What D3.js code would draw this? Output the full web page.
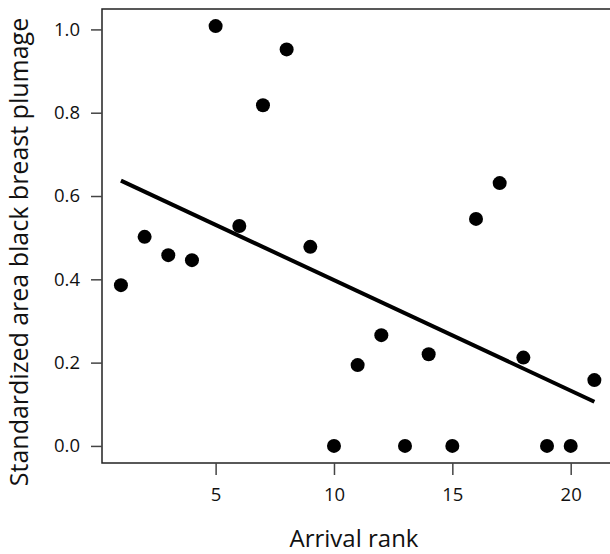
<!DOCTYPE html>
<html>
<head>
<meta charset="utf-8">
<script src="https://cdn.jsdelivr.net/npm/d3@7.9.0/dist/d3.min.js"></script>
<style>
  body { margin: 0; background: #fff; }
  svg text { font-family: "Open Sans", sans-serif; fill: #111; }
</style>
</head>
<body>
<svg id="chart" width="610" height="554"></svg>
<script>
// arrival rank of each male, and the standardized black breast area
const arrivalRank = [1, 2, 3, 4, 5, 6, 7, 8, 9, 10, 11, 12, 13, 14, 15, 16, 17, 18, 19, 20, 21];
const breastArea = [0.386, 0.502, 0.458, 0.446, 1.008, 0.528, 0.818, 0.952, 0.478, 0,
                    0.194, 0.266, 0, 0.220, 0, 0.545, 0.631, 0.212, 0, 0, 0.158];
const xTicks = [5, 10, 15, 20];
const yTicks = [0, 0.2, 0.4, 0.6, 0.8, 1.0];

const svg = d3.select('#chart');

// R-style limits: 4% padding on both sides
let x = d3.scaleLinear().domain([0.2, 21.8]).range([102, 613.3]);
let y = d3.scaleLinear().domain([-0.041, 1.049]).range([463, 9]);

// plot box (right edge falls just off the page)
svg.append('rect')
    .attr('x', x(0.2))
    .attr('y', y(1.049))
    .attr('width', x(21.8) - x(0.2))
    .attr('height', y(-0.041) - y(1.049))
    .attr('fill', 'none')
    .attr('stroke', '#222')
    .attr('stroke-width', 1.5);

// y axis
let yAxis = svg.append('g')
    .attr('transform', `translate(${x(0.2)},0)`)
    .call(d3.axisLeft(y).tickValues(yTicks).tickFormat(d3.format('.1f')).tickSize(11).tickPadding(11));
yAxis.select('.domain').remove();
yAxis.selectAll('.tick line').attr('stroke', '#444').attr('stroke-width', 1.5);
yAxis.selectAll('.tick text').style('font-size', '18.5px').attr('fill', '#111');

// x axis
let xAxis = svg.append('g')
    .attr('transform', `translate(0,${y(-0.041)})`)
    .call(d3.axisBottom(x).tickValues(xTicks).tickSize(12).tickPadding(13));
xAxis.select('.domain').remove();
xAxis.selectAll('.tick line').attr('stroke', '#444').attr('stroke-width', 1.5);
xAxis.selectAll('.tick text').style('font-size', '18.5px').attr('fill', '#111');

// least squares fit
let data = arrivalRank.map((r, i) => ({ rank: r, area: breastArea[i] }));
let mx = d3.mean(data, d => d.rank);
let my = d3.mean(data, d => d.area);
let slope = d3.sum(data, d => (d.rank - mx) * (d.area - my)) / d3.sum(data, d => (d.rank - mx) ** 2);
let intercept = my - slope * mx;
let xEnds = d3.extent(arrivalRank);

svg.append('line')
    .attr('x1', x(xEnds[0]))
    .attr('y1', y(intercept + slope * xEnds[0]))
    .attr('x2', x(xEnds[1]))
    .attr('y2', y(intercept + slope * xEnds[1]))
    .attr('stroke', '#000')
    .attr('stroke-width', 4);

svg.selectAll('circle')
    .data(data)
    .enter()
    .append('circle')
    .attr('cx', d => x(d.rank))
    .attr('cy', d => y(d.area))
    .attr('r', 7)
    .attr('fill', '#000');

// axis titles
svg.append('text')
    .attr('x', 354)
    .attr('y', 547)
    .attr('text-anchor', 'middle')
    .style('font-size', '24px')
    .text('Arrival rank');

svg.append('text')
    .attr('transform', 'translate(28,252) rotate(-90)')
    .attr('text-anchor', 'middle')
    .style('font-size', '25px')
    .text('Standardized area black breast plumage');
</script>
</body>
</html>
